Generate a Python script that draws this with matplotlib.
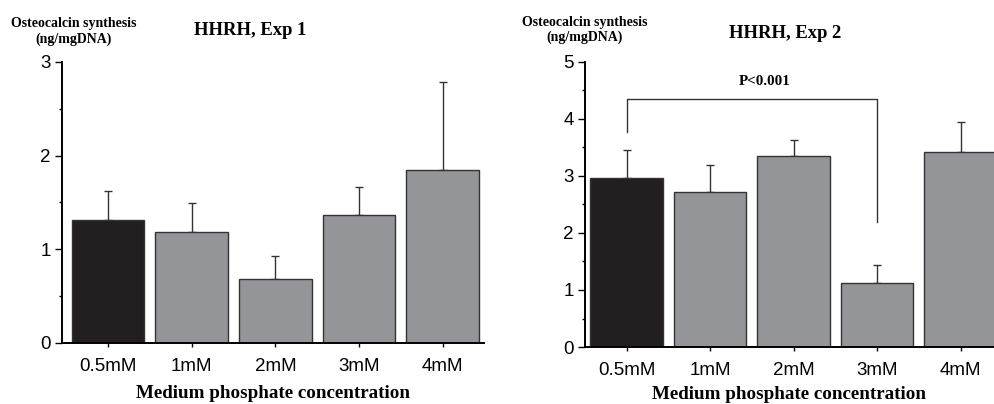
import numpy as np
import matplotlib
matplotlib.use("Agg")
from matplotlib import pyplot as plt
from matplotlib.ticker import MultipleLocator

# data
categories = ['0.5mM', '1mM', '2mM', '3mM', '4mM']
exp1_mean = [1.31, 1.18, 0.68, 1.37, 1.85]
exp1_err = [0.31, 0.31, 0.25, 0.29, 0.93]
exp2_mean = [2.96, 2.72, 3.35, 1.12, 3.42]
exp2_err = [0.49, 0.47, 0.28, 0.32, 0.53]
bar_colors = ['#231f20', '#939598', '#939598', '#939598', '#939598']

# significance bracket, exp 2 (between 0.5mM and 3mM)
bracket_left_y = 3.77
bracket_top_y = 4.35
bracket_right_y = 2.19
p_text = 'P<0.001'

serif = 'Liberation Serif'
sans = 'Liberation Sans'

fig = plt.figure(figsize=(9.94, 4.04), dpi=100)
ax1 = fig.add_axes([0.0624, 0.151, 0.425, 0.696])
ax2 = fig.add_axes([0.5885, 0.141, 0.4115, 0.706])

x = np.arange(len(categories))


def draw_panel(ax, means, errs, ymax, xmax, lpad):
    ax.bar(x, means, width=0.87, color=bar_colors, edgecolor='#333333',
           linewidth=1.0, zorder=2)
    ax.errorbar(x, means, yerr=[np.zeros(len(means)), errs], fmt='none',
                ecolor='#333333', elinewidth=1.0, capsize=3, capthick=1.0,
                zorder=1)
    ax.set_xlim(-0.55, xmax)
    ax.set_ylim(0, ymax)
    ax.spines['top'].set_visible(False)
    ax.spines['right'].set_visible(False)
    ax.spines['left'].set_linewidth(1.4)
    ax.spines['bottom'].set_linewidth(1.4)
    ax.set_xticks(x)
    ax.set_xticklabels(categories, fontfamily=sans, fontsize=13.5)
    ax.yaxis.set_major_locator(MultipleLocator(1))
    ax.yaxis.set_minor_locator(MultipleLocator(0.5))
    ax.tick_params(axis='y', which='major', length=5, width=1.0,
                   labelsize=13.5, pad=3)
    ax.tick_params(axis='y', which='minor', length=2.5, width=1.0)
    ax.tick_params(axis='x', length=3, width=1.0, pad=8)
    for lab in ax.get_yticklabels():
        lab.set_fontfamily(sans)
    ax.set_xlabel('Medium phosphate concentration', fontfamily=serif,
                  fontweight='bold', fontsize=13.7, labelpad=lpad)


draw_panel(ax1, exp1_mean, exp1_err, 3, 4.5, 7)
draw_panel(ax2, exp2_mean, exp2_err, 5, 4.4, 5)
ax2.set_xlim(-0.5, 4.4)

# bracket
ax2.plot([x[0], x[0], x[3], x[3]],
         [bracket_left_y, bracket_top_y, bracket_top_y, bracket_right_y],
         color='#333333', lw=1.0, zorder=3)
ax2.text((x[0] + x[3]) / 2 + 0.15, 4.65, p_text, ha='center', va='center',
         fontfamily=serif, fontweight='bold', fontsize=10.8)

# titles and y labels
fig.text(0.252, 0.925, 'HHRH, Exp 1', ha='center', va='center',
         fontfamily=serif, fontweight='bold', fontsize=13.4)
fig.text(0.790, 0.918, 'HHRH, Exp 2', ha='center', va='center',
         fontfamily=serif, fontweight='bold', fontsize=13.4)
fig.text(0.074, 0.922, 'Osteocalcin synthesis\n(ng/mgDNA)', ha='center',
         va='center', fontfamily=serif, fontweight='bold', fontsize=10,
         linespacing=1.15)
fig.text(0.5885, 0.926, 'Osteocalcin synthesis\n(ng/mgDNA)', ha='center',
         va='center', fontfamily=serif, fontweight='bold', fontsize=10,
         linespacing=1.15)

fig.savefig('out.png', dpi=100)
